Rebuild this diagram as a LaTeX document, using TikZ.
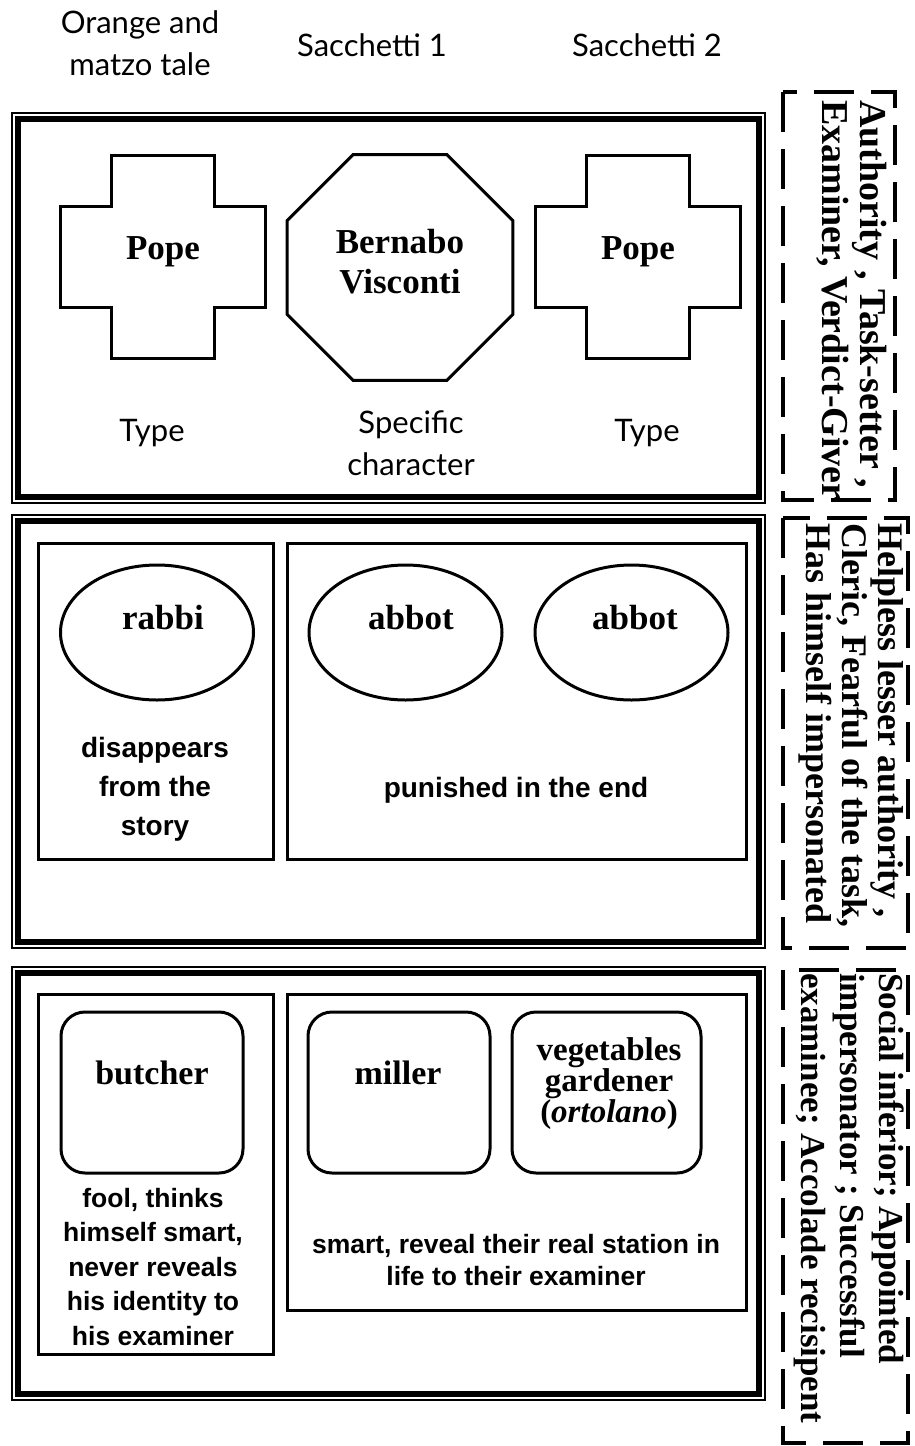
\documentclass[tikz,border=0pt]{standalone}
\usepackage{fontspec}
\setmainfont{Liberation Serif}
\newfontfamily\arialf{Liberation Sans}
\newfontfamily\handf{Lato}
\usetikzlibrary{shapes.geometric}
\begin{document}
\begin{tikzpicture}[x=1pt,y=-1pt,
  hand/.style={font=\handf\fontsize{31}{42}\selectfont, align=center, inner sep=0},
  lbl/.style={font=\bfseries\fontsize{35}{40}\selectfont, align=center, inner sep=0},
  desc/.style={font=\arialf\bfseries\fontsize{28}{39}\selectfont, align=center, inner sep=0},
  descs/.style={font=\arialf\bfseries\fontsize{26.5}{34.5}\selectfont, align=center, inner sep=0},
  side/.style={font=\bfseries\fontsize{38}{38}\selectfont, align=left, inner sep=0, rotate=-90, anchor=north west},
  thinframe/.style={draw, line width=1.5pt},
  thickframe/.style={draw, line width=5.5pt},
  inbox/.style={draw, line width=3pt},
  shp/.style={draw, line width=3pt},
  ell/.style={draw, ellipse, line width=3pt, minimum width=193pt, minimum height=135pt, inner sep=0},
  rbox/.style={draw, rectangle, rounded corners=24pt, line width=3pt, minimum height=161pt, inner sep=0},
  bracket/.style={draw, line width=4pt, dash pattern=on 40pt off 17pt}
]
\useasboundingbox (0,0) rectangle (914,1446);

% header
\node[hand] (h0) at (140,43) {Orange and\\matzo tale};
\node[hand] (h1) at (372,45) {Sacchetti 1};
\node[hand] (h2) at (647,45) {Sacchetti 2};

% panel frames
\draw[thinframe] (12,113) rectangle (765,503);
\draw[thickframe] (18,119) rectangle (759,497);
\draw[thinframe] (12,515) rectangle (765,948);
\draw[thickframe] (18,521) rectangle (759,942);
\draw[thinframe] (12,967) rectangle (765,1400);
\draw[thickframe] (18,973) rectangle (759,1394);

% panel 1
\draw[shp] (111,155) -- ++(103,0) -- ++(0,51) -- ++(51,0) -- ++(0,101) -- ++(-51,0) -- ++(0,51) -- ++(-103,0) -- ++(0,-51) -- ++(-51,0) -- ++(0,-101) -- ++(51,0) -- cycle;
\draw[shp] (586,155) -- ++(103,0) -- ++(0,51) -- ++(51,0) -- ++(0,101) -- ++(-51,0) -- ++(0,51) -- ++(-103,0) -- ++(0,-51) -- ++(-51,0) -- ++(0,-101) -- ++(51,0) -- cycle;
\node[draw, regular polygon, regular polygon sides=8, minimum size=244.6pt, line width=3pt, inner sep=0] (oct) at (400,267.5) {};
\node[lbl] (pope1) at (163,252) {Pope};
\node[lbl] (bv) at (400,262) {Bernabo\\Visconti};
\node[lbl] (pope2) at (638,252) {Pope};
\node[hand] (t1) at (152,433) {Type};
\node[hand] (t2) at (411,443) {Specific\\character};
\node[hand] (t3) at (647,433) {Type};

% panel 2
\draw[inbox] (38,543) rectangle (273,859);
\draw[inbox] (287,543) rectangle (746,859);
\node[ell] (e1) at (157,632.5) {};
\node[ell] (e2) at (405.5,632.5) {};
\node[ell] (e3) at (631.5,632.5) {};
\node[lbl] (rabbi) at (163,618) {rabbi};
\node[lbl] (abbot1) at (411,618) {abbot};
\node[lbl] (abbot2) at (635,618) {abbot};
\node[desc] (d1) at (155,789) {disappears\\from the\\story};
\node[desc] (d2) at (516,790) {punished in the end};

% panel 3
\draw[inbox] (38,994) rectangle (273,1354);
\draw[inbox] (287,994) rectangle (746,1310);
\node[rbox, minimum width=182pt] (r1) at (152,1092.5) {};
\node[rbox, minimum width=182pt] (r2) at (399,1092.5) {};
\node[rbox, minimum width=189pt] (r3) at (606.5,1092.5) {};
\node[lbl, font=\bfseries\fontsize{34}{31}\selectfont] (butcher) at (152,1073) {butcher};
\node[lbl, font=\bfseries\fontsize{34}{31}\selectfont] (miller) at (398,1073) {miller};
\node[lbl, font=\bfseries\fontsize{33}{31}\selectfont] (veg) at (609,1084) {vegetables\\gardener\\(\textbf{\textit{ortolano}})};
\node[descs] (d3) at (153,1267) {fool, thinks\\himself smart,\\never reveals\\his identity to\\his examiner};
\node[descs, font=\arialf\bfseries\fontsize{26.5}{32}\selectfont] (d4) at (516,1260) {smart, reveal their real station in\\life to their examiner};

% side labels
\draw[bracket] (783,92) rectangle (895,500);
\node[side] (s1) at (887,100) {Authority , Task-setter ,\\Examiner, Verdict-Giver};
\draw[bracket] (783,518) rectangle (908,948);
\node[side, font=\bfseries\fontsize{36}{36}\selectfont] (s2) at (904,523) {Helpless lesser authority ,\\Cleric, Fearful of the task,\\Has himself impersonated};
\draw[bracket] (783,970) rectangle (908,1443);
\node[side, font=\bfseries\fontsize{35}{39}\selectfont] (s3) at (904,973) {Social inferior; Appointed\\impersonator ; Successful\\examinee; Accolade recisipent};
\end{tikzpicture}
\end{document}
